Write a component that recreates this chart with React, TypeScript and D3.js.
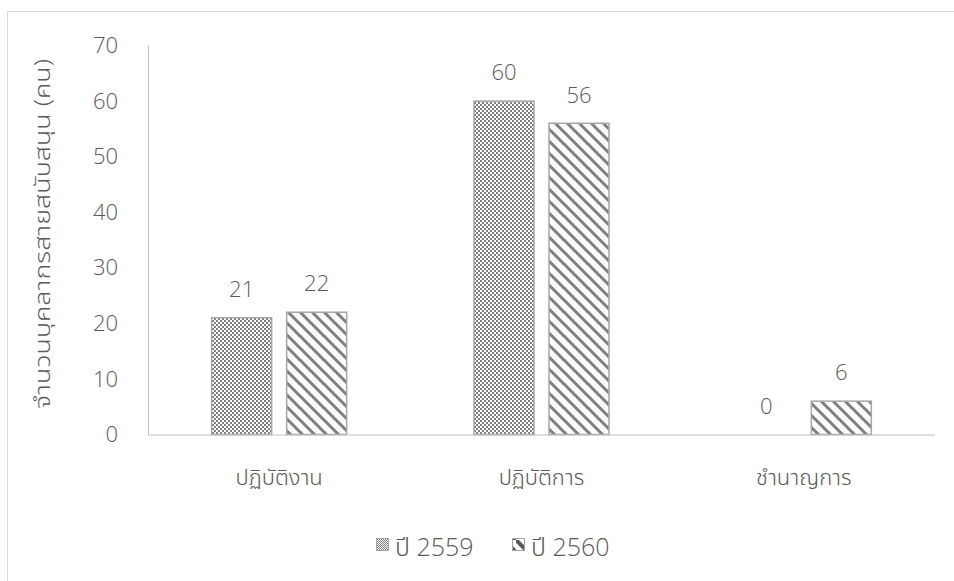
import React from "react";
import * as d3 from "d3";

const categories = ["ปฏิบัติงาน", "ปฏิบัติการ", "ชำนาญการ"];
const seriesNames = ["ปี 2559", "ปี 2560"];
const values2559 = [21, 60, 0];
const values2560 = [22, 56, 6];
const yTicks = [0, 10, 20, 30, 40, 50, 60, 70];
const yTitle = "จำนวนบุคลากรสายสนับสนุน (คน)";

const W = 954;
const H = 581;
const FONT = "'Open Sans', 'Noto Sans Thai', 'Noto Sans', sans-serif";
const TXT = "#595959";
const FW = 300;

export default function App() {
  const left = 148;
  const right = 935;
  const top = 45.5;
  const bottom = 434.5;
  const y = d3.scaleLinear().domain([0, 70]).range([bottom, top]);
  const x0 = d3.scaleBand<string>().domain(categories).range([left, right]).paddingInner(0).paddingOuter(0);
  const barW = 60;
  const gap = 15;
  const series = [values2559, values2560];
  const patterns = ["url(#checker)", "url(#diag)"];

  return (
    <div style={{ position: "absolute", left: 0, top: 0 }}>
      <svg width={W} height={H} style={{ display: "block", fontFamily: FONT, fontWeight: FW }}>
        <defs>
          <pattern id="checker" width="4" height="4" patternUnits="userSpaceOnUse">
            <rect width="4" height="4" fill="#ffffff" />
            <rect x="0" y="0" width="2" height="2" fill="#7f7f7f" />
            <rect x="2" y="2" width="2" height="2" fill="#7f7f7f" />
          </pattern>
          <pattern id="diag" width="12" height="12" patternUnits="userSpaceOnUse">
            <rect width="12" height="12" fill="#ffffff" />
            <path d="M-3,-3 L15,15 M-3,9 L3,15 M9,-3 L15,3" stroke="#7f7f7f" strokeWidth="3" />
          </pattern>
          <pattern id="checkerL" width="2" height="2" patternUnits="userSpaceOnUse">
            <rect width="2" height="2" fill="#ffffff" />
            <rect x="0" y="0" width="1" height="1" fill="#7f7f7f" />
            <rect x="1" y="1" width="1" height="1" fill="#7f7f7f" />
          </pattern>
          <pattern id="diagL" width="12" height="12" patternUnits="userSpaceOnUse">
            <rect width="12" height="12" fill="#ffffff" />
            <path d="M-3,-3 L15,15" stroke="#595959" strokeWidth="4" />
          </pattern>
        </defs>
        <rect x={0} y={0} width={W} height={H} fill="#ffffff" />
        <rect x={7.5} y={11.5} width={1200} height={1200} fill="none" stroke="#d9d9d9" strokeWidth={1} />

        {/* y axis line */}
        <line x1={left + 0.5} x2={left + 0.5} y1={top} y2={bottom} stroke="#bfbfbf" strokeWidth={1} />

        {/* y ticks */}
        {yTicks.map((t) => (
          <text key={t} x={118} y={y(t)} dy="0.35em" textAnchor="end" fontSize={22} fill={TXT}>
            {t}
          </text>
        ))}

        {/* y title */}
        <text
          transform={`translate(50,${234}) rotate(-90)`}
          textAnchor="middle"
          fontSize={22}
          fill={TXT}
          textLength={350}
          lengthAdjust="spacingAndGlyphs"
        >
          {yTitle}
        </text>

        {/* bars */}
        {categories.map((c, ci) => {
          const cx = (x0(c) as number) + x0.bandwidth() / 2;
          const start = cx - barW - gap / 2;
          return (
            <g key={c}>
              {series.map((vals, si) => {
                const bx = start + si * (barW + gap);
                const v = vals[ci];
                const by = y(v);
                return (
                  <g key={si}>
                    {v > 0 && (
                      <rect
                        x={bx}
                        y={by}
                        width={barW}
                        height={bottom - by}
                        fill={patterns[si]}
                        stroke="#a6a6a6"
                        strokeWidth={1.5}
                      />
                    )}
                    <text
                      x={bx + barW / 2}
                      y={by - 28.5}
                      dy="0.35em"
                      textAnchor="middle"
                      fontSize={22}
                      fill={TXT}
                    >
                      {v}
                    </text>
                  </g>
                );
              })}
              <text x={cx} y={477} dy="0.35em" textAnchor="middle" fontSize={22} fill={TXT}>
                {c}
              </text>
            </g>
          );
        })}

        {/* x axis line */}
        <line x1={left} x2={right} y1={bottom + 0.5} y2={bottom + 0.5} stroke="#bfbfbf" strokeWidth={1} />

        {/* legend */}
        {seriesNames.map((s, i) => {
          const lx = i === 0 ? 376 : 512;
          return (
            <g key={s}>
              <rect x={lx + 0.5} y={538.5} width={12} height={12} fill={i === 0 ? "url(#checkerL)" : "url(#diagL)"} stroke="#a6a6a6" strokeWidth={1} />
              <text x={lx + 19} y={547} dy="0.35em" fontSize={25} fill={TXT}>
                {s}
              </text>
            </g>
          );
        })}
      </svg>
    </div>
  );
}
